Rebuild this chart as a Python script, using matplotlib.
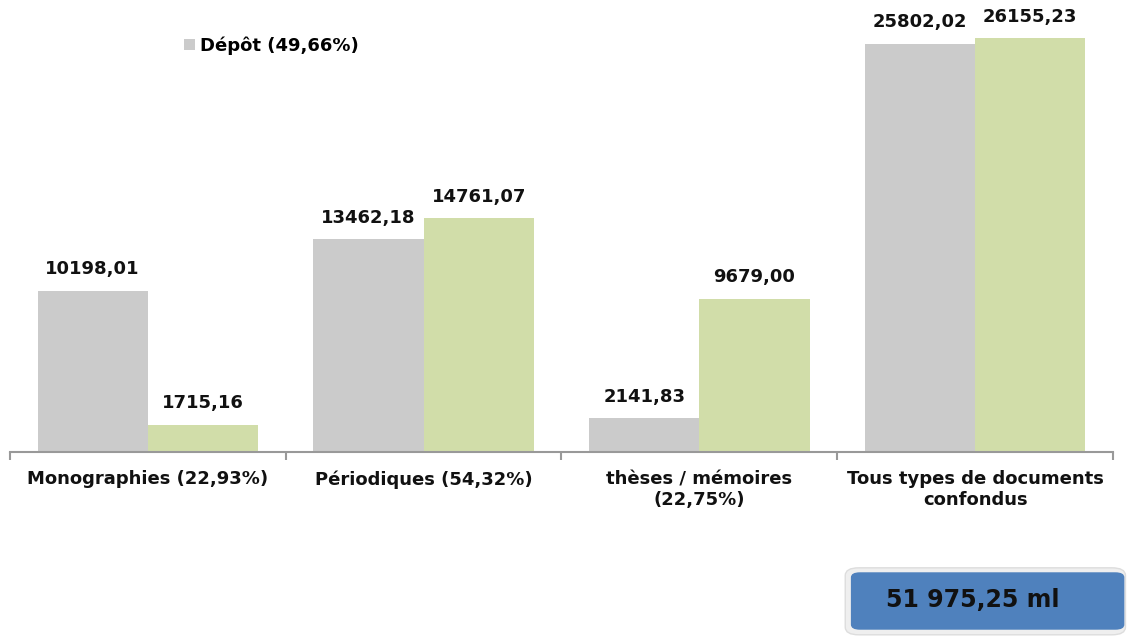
import matplotlib
matplotlib.use("Agg")
from matplotlib import pyplot as plt
from matplotlib.patches import FancyBboxPatch
import numpy as np

categories = [
    "Monographies (22,93%)",
    "Périodiques (54,32%)",
    "thèses / mémoires\n(22,75%)",
    "Tous types de documents\nconfondus",
]
depot = [10198.01, 13462.18, 2141.83, 25802.02]
autre = [1715.16, 14761.07, 9679.00, 26155.23]
depot_label = "Dépôt (49,66%)"
total_text = "51 975,25 ml"

plt.rcParams["font.family"] = ["DejaVu Sans"]

fig = plt.figure(figsize=(11.3, 6.38), dpi=100)
ax = fig.add_axes([0.0088, 0.2915, 0.9761, 0.7085])

x = np.arange(len(categories))
w = 0.4
b1 = ax.bar(x - w / 2, depot, w, color="#CBCBCB", label=depot_label)
b2 = ax.bar(x + w / 2, autre, w, color="#D1DDA9")


def fmt(v):
    return f"{v:.2f}".replace(".", ",")


for bars, vals in ((b1, depot), (b2, autre)):
    for r, v in zip(bars, vals):
        ax.annotate(fmt(v), (r.get_x() + r.get_width() / 2, v),
                    xytext=(0, 9), textcoords="offset points",
                    ha="center", va="bottom", fontsize=13,
                    fontweight="bold", color="#111111")

ax.set_xlim(-0.5, len(categories) - 0.5)
ax.set_ylim(0, 28570)
ax.set_yticks([])
for s in ("top", "right", "left"):
    ax.spines[s].set_visible(False)
ax.spines["bottom"].set_color("#999999")
ax.spines["bottom"].set_linewidth(1.5)

ax.set_xticks(x)
ax.set_xticklabels(categories, fontsize=13, fontweight="bold", color="#111111")
ax.tick_params(axis="x", which="major", length=0, pad=13)
ax.set_xticks(np.arange(len(categories) + 1) - 0.5, minor=True)
ax.tick_params(axis="x", which="minor", length=6, width=1.5, color="#999999")

leg = ax.legend(loc="upper left", bbox_to_anchor=(0.143, 0.955), frameon=False,
                handlelength=0.6, handleheight=0.6, handletextpad=0.3,
                prop={"weight": "bold", "size": 13})

# boîte du total
outer = FancyBboxPatch((0.748, 0.005), 0.248, 0.105,
                       boxstyle="round,pad=0,rounding_size=0.012",
                       transform=fig.transFigure, facecolor="#EFEFEF",
                       edgecolor="#DDDDDD", linewidth=1)
inner = FancyBboxPatch((0.753, 0.013), 0.242, 0.090,
                       boxstyle="round,pad=0,rounding_size=0.008",
                       transform=fig.transFigure, facecolor="#4F81BD",
                       edgecolor="none")
fig.patches.extend([outer, inner])
fig.text(0.784, 0.059, total_text, fontsize=17, fontweight="bold",
         va="center", ha="left", color="#111111")

plt.savefig("out.png", dpi=100)
